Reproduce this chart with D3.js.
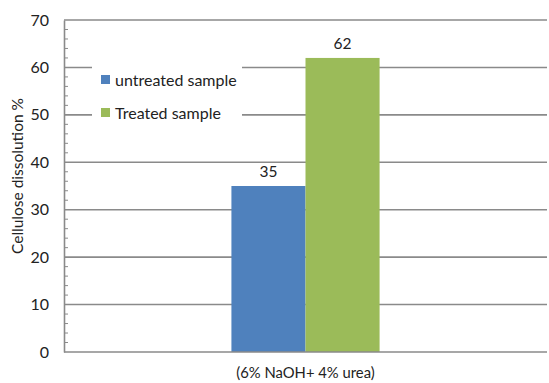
<!DOCTYPE html>
<html><head><meta charset="utf-8">
<script src="https://cdn.jsdelivr.net/npm/d3@7"></script>
<style>body{margin:0;background:#fff}svg{display:block}text{font-family:Lato,"Open Sans",sans-serif;fill:#222}</style>
</head><body><svg id="c" width="549" height="383"></svg>
<script>
const categories = ["(6% NaOH+ 4% urea)"];
const seriesNames = ["untreated sample", "Treated sample"];
const untreated = [35];
const treated = [62];
const yTicks = [0,10,20,30,40,50,60,70];
const colors = ["#4F81BD", "#9BBB59"];

const svg = d3.select("#c");
const L = 64, R = 547, T = 20, B = 352;
const y = d3.scaleLinear().domain([0,70]).range([B,T]);
const x = d3.scaleBand().domain(categories).range([L,R]).paddingInner(0).paddingOuter(0);
const xs = d3.scaleBand().domain(seriesNames).range([0,x.bandwidth()]).paddingInner(0).paddingOuter(2.26);

// gridlines
svg.append("g").selectAll("line").data(yTicks.filter(d=>d>0)).join("line")
  .attr("x1",L).attr("x2",R).attr("y1",d=>y(d)).attr("y2",d=>y(d))
  .attr("stroke","#8a8a8a").attr("stroke-width",1.6);

// y axis
const ya = d3.axisLeft(y).tickValues(yTicks).tickSize(0).tickPadding(15).tickFormat(d3.format("d"));
const g = svg.append("g").attr("transform",`translate(${L},0)`).call(ya);
g.select(".domain").attr("stroke","#8a8a8a").attr("stroke-width",1.6);
g.selectAll("text").style("font-size","16px").attr("fill","#333");
// minor ticks
const minor = d3.range(0,70,2).filter(d=>d%10!==0);
svg.append("g").selectAll("line").data(minor).join("line")
  .attr("x1",L).attr("x2",L+4).attr("y1",d=>y(d)).attr("y2",d=>y(d))
  .attr("stroke","#8a8a8a").attr("stroke-width",1);

// bars
const data = categories.map((c,i)=>({c, vals:[untreated[i], treated[i]]}));
const grp = svg.append("g");
data.forEach(d=>{
  d.vals.forEach((v,j)=>{
    const bx = x(d.c)+xs(seriesNames[j]);
    grp.append("rect").attr("x",bx).attr("width",xs.bandwidth())
      .attr("y",y(v)).attr("height",y(0)-y(v)).attr("fill",colors[j]);
    grp.append("text").attr("x",bx+xs.bandwidth()/2).attr("y",y(v)-9)
      .attr("text-anchor","middle").style("font-size","15.5px").text(v);
  });
});

// x axis
svg.append("line").attr("x1",L).attr("x2",R).attr("y1",B).attr("y2",B)
  .attr("stroke","#8a8a8a").attr("stroke-width",1.6);
svg.append("g").selectAll("text").data(categories).join("text")
  .attr("x",d=>x(d)+x.bandwidth()/2).attr("y",378).attr("text-anchor","middle")
  .style("font-size","14.8px").text(d=>d);

// y title
svg.append("text").attr("transform",`translate(23,176) rotate(-90)`)
  .attr("text-anchor","middle").style("font-size","15.5px").text("Cellulose dissolution %");

// legend
const lg = svg.append("g");
lg.append("rect").attr("x",92).attr("y",58).attr("width",150).attr("height",70).attr("fill","#fff");
seriesNames.forEach((s,i)=>{
  const yy = 80 + i*33;
  lg.append("rect").attr("x",101).attr("y",yy-5).attr("width",9).attr("height",9).attr("fill",colors[i]);
  lg.append("text").attr("x",115).attr("y",yy+6).style("font-size","16px").text(s);
});
</script></body></html>
